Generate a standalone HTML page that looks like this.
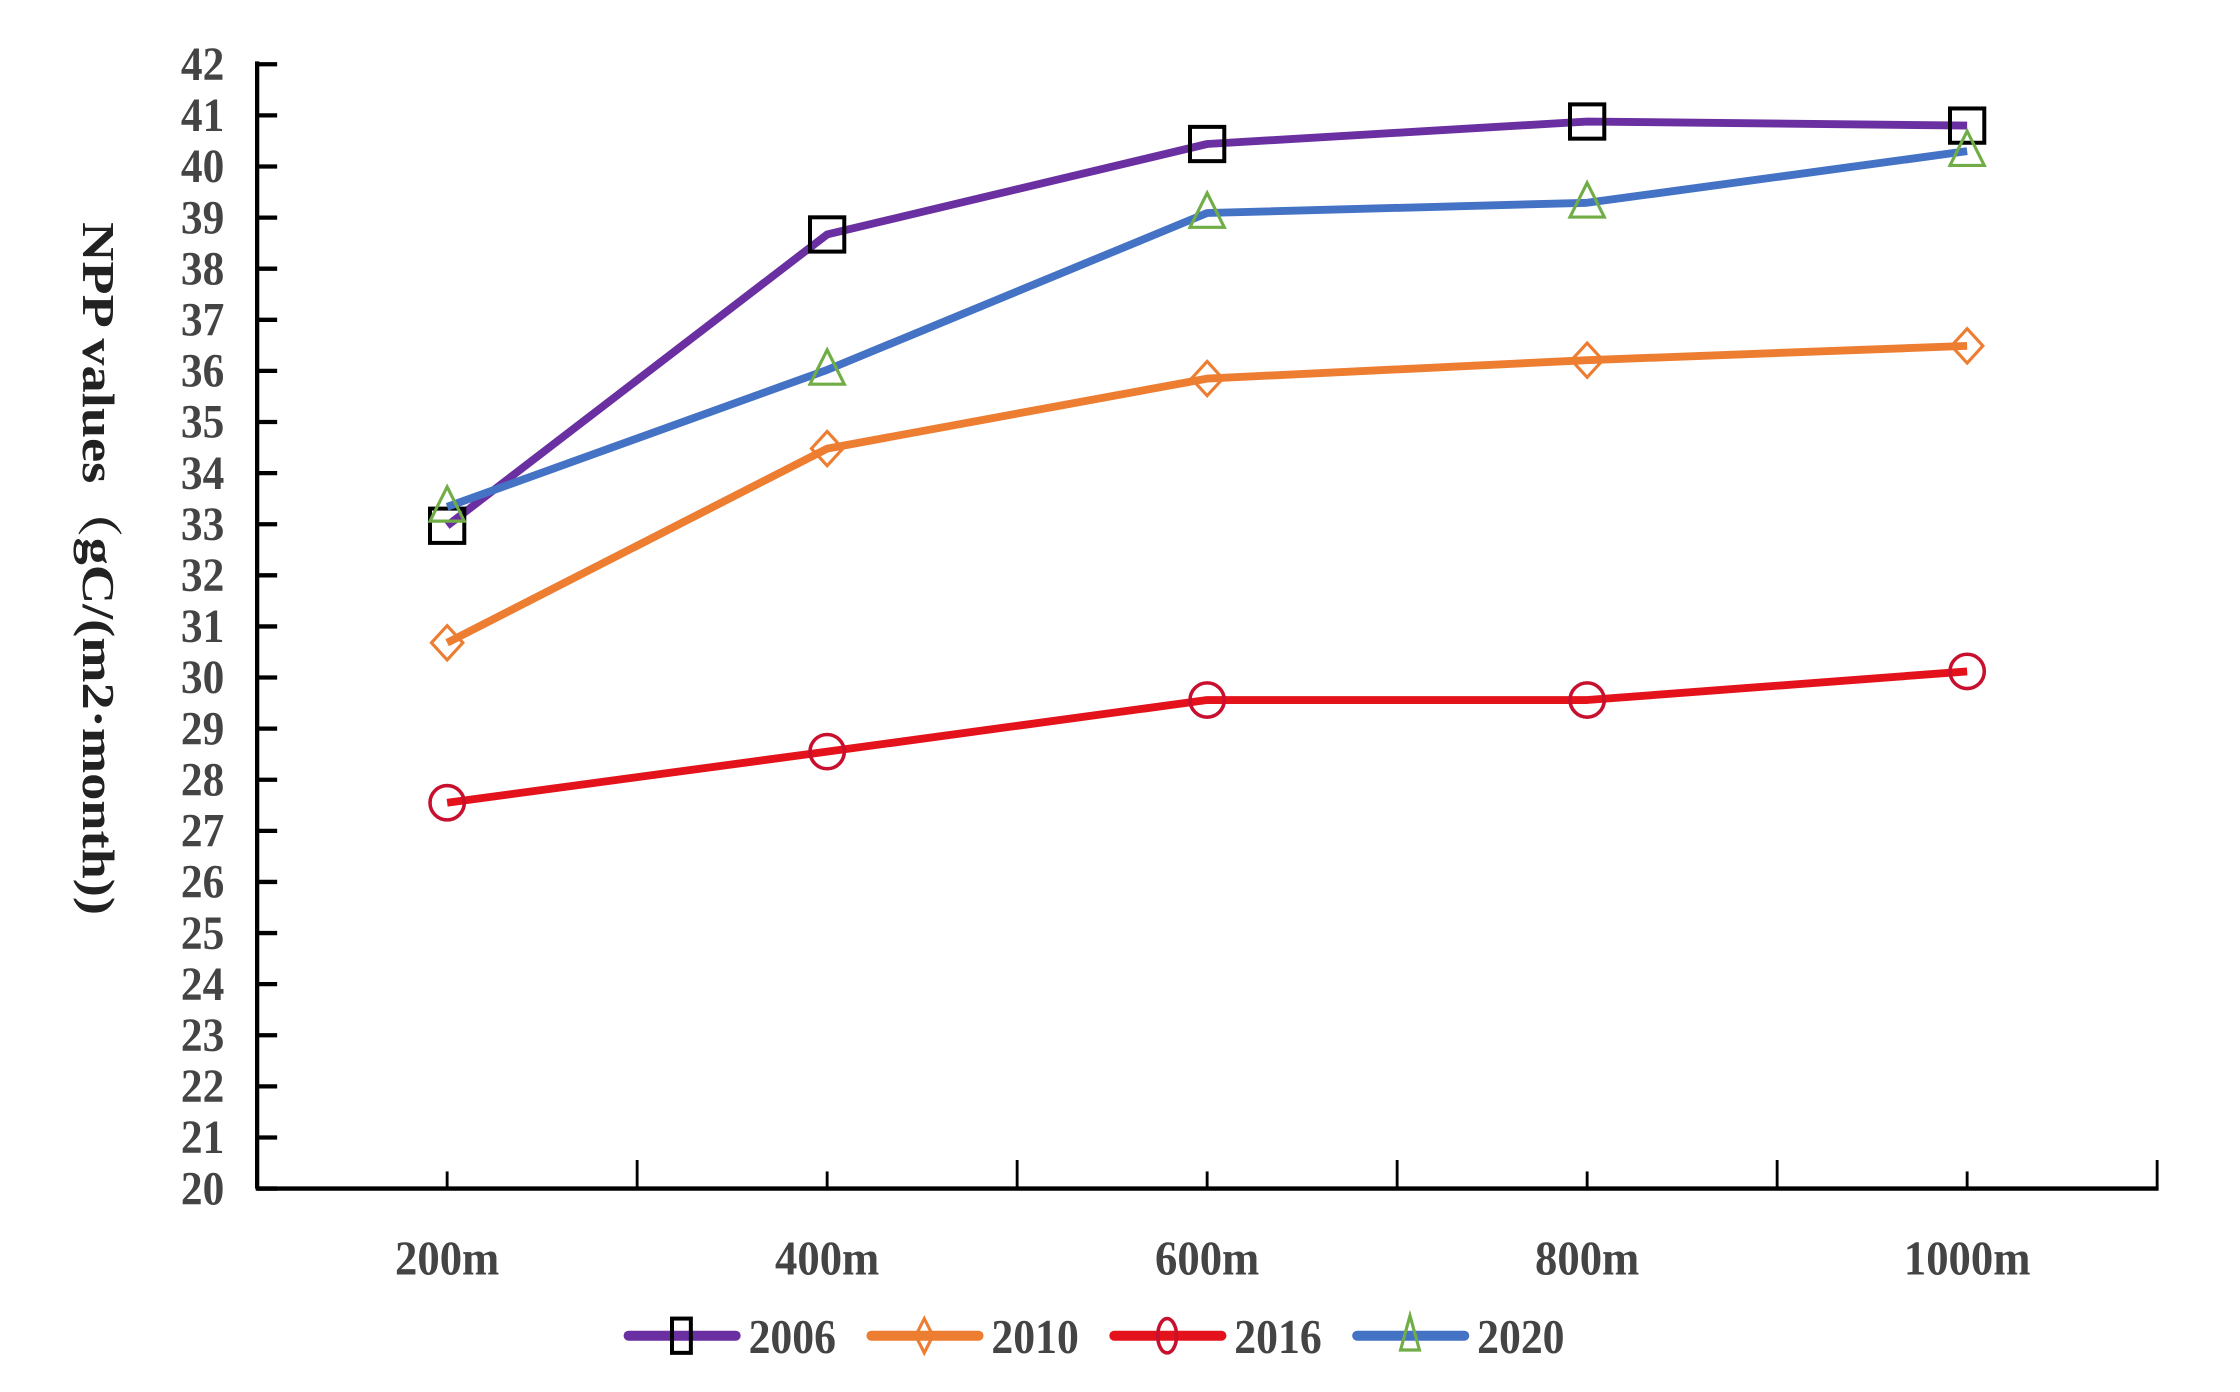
<!DOCTYPE html>
<html><head><meta charset="utf-8"><style>
html,body{margin:0;padding:0;background:#fff;}
svg{display:block;}
text{font-family:"Liberation Serif","Noto Serif CJK SC",serif;font-weight:bold;fill:#444;}
</style></head><body>
<svg id="chart" width="2240" height="1392" viewBox="0 0 1568 974.4" xmlns="http://www.w3.org/2000/svg">
<rect width="1568" height="974.4" fill="#fff"/>
<text transform="translate(58,398) rotate(90)" text-anchor="middle" font-size="32" textLength="485" lengthAdjust="spacingAndGlyphs" style="fill:#222">NPP  values（gC/(m2·month))</text>
<g id="axes"></g>
<g id="series"></g>
<g id="legend"></g>
</svg>
<script>
const categories = ["200m","400m","600m","800m","1000m"];
const yTicks = [20,21,22,23,24,25,26,27,28,29,30,31,32,33,34,35,36,37,38,39,40,41,42];
const years = ["2006","2010","2016","2020"];
const s2006 = [32.97,38.67,40.44,40.88,40.8];
const s2010 = [30.68,34.48,35.85,36.21,36.49];
const s2016 = [27.55,28.55,29.56,29.56,30.12];
const s2020 = [33.34,36.02,39.09,39.29,40.3];

const NS="http://www.w3.org/2000/svg";
const X0=180,X1=1510,Y0=832,Y1=45,yMin=20,yMax=42;
const band=(X1-X0)/categories.length;
function xPos(i){return X0+band*(i+0.5);}
function yPos(v){return Y0-(v-yMin)/(yMax-yMin)*(Y0-Y1);}
function mk(tag,attrs,parent){const e=document.createElementNS(NS,tag);for(const k in attrs)e.setAttribute(k,attrs[k]);parent.appendChild(e);return e;}
const axes=document.getElementById('axes');
const ya=mk('line',{x1:X0,y1:Y1-2,x2:X0,y2:Y0,stroke:'#000','stroke-width':3},axes);


const xa=mk('line',{x1:X0-1,y1:Y0,x2:X1+1,y2:Y0,stroke:'#000','stroke-width':3},axes);


yTicks.forEach(v=>{
  const y=yPos(v);
  const t=mk('line',{x1:X0,y1:y,x2:X0+14,y2:y,stroke:'#000','stroke-width':3},axes);
  
  
  const l=mk('text',{x:0,y:0,'text-anchor':'end','font-size':33,transform:`translate(157,${y+11}) scale(0.92,1)`},axes);
  l.textContent=v;
  
  
});
for(let i=0;i<=categories.length*2;i++){
  const x=X0+band/2*i;const h=(i%2===0)?20:12;
  const t=mk('line',{x1:x,y1:Y0,x2:x,y2:Y0-h,stroke:'#000','stroke-width':2},axes);
  
  
}
categories.forEach((c,i)=>{
  const l=mk('text',{x:0,y:0,'text-anchor':'middle','font-size':34,transform:`translate(${xPos(i)},892) scale(0.92,1)`},axes);
  l.textContent=c;
  
  
});
const styles=[
 {data:s2006,color:'#6a2fa0',marker:'square',mc:'#000'},
 {data:s2010,color:'#ed7d31',marker:'diamond',mc:'#ed7d31'},
 {data:s2016,color:'#e3121b',marker:'circle',mc:'#c8102e'},
 {data:s2020,color:'#4472c4',marker:'triangle',mc:'#70ad47'}];
function marker(g,type,x,y,c,w){
  let e;
  if(type==='square')e=mk('rect',{x:x-12*w,y:y-12,width:24*w,height:24,fill:'none',stroke:c,'stroke-width':2.8},g);
  else if(type==='diamond')e=mk('polygon',{points:`${x},${y-12} ${x+11*w},${y} ${x},${y+12} ${x-11*w},${y}`,fill:'none',stroke:c,'stroke-width':2.2},g);
  else if(type==='circle')e=mk('ellipse',{cx:x,cy:y,rx:12*w,ry:12,fill:'none',stroke:c,'stroke-width':2.5},g);
  else e=mk('polygon',{points:`${x},${y-14} ${x+12*w},${y+10} ${x-12*w},${y+10}`,fill:'none',stroke:c,'stroke-width':2.2},g);
  return e;
}
const sg=document.getElementById('series');
styles.forEach((s,k)=>{
  const g=mk('g',{},sg);
  
  
  const pts=s.data.map((v,i)=>xPos(i)+','+yPos(v)).join(' ');
  const pl=mk('polyline',{points:pts,fill:'none',stroke:s.color,'stroke-width':5.5,'stroke-linejoin':'round'},g);
  
  
  s.data.forEach((v,i)=>{
    const m=marker(g,s.marker,xPos(i),yPos(v),s.mc,1);
    
    
  });
});
const lg=document.getElementById('legend');
const lx=[440,610,780,950];
styles.forEach((s,k)=>{
  const g=mk('g',{},lg);
  
  
  mk('line',{x1:lx[k],y1:935,x2:lx[k]+75,y2:935,stroke:s.color,'stroke-width':7,'stroke-linecap':'round'},g);
  marker(g,s.marker,lx[k]+37,935,s.mc,0.55);
  const t=mk('text',{x:0,y:0,'font-size':34,transform:`translate(${lx[k]+84},947) scale(0.9,1)`},g);
  t.textContent=years[k];
});
</script>
</body></html>
